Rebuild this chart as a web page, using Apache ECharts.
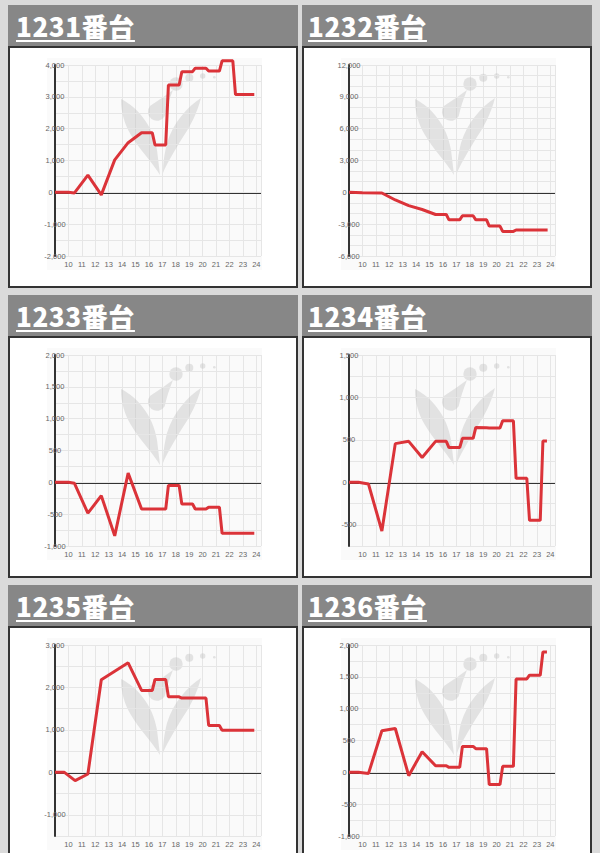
<!DOCTYPE html>
<html><head><meta charset="utf-8">
<script src="https://cdn.jsdelivr.net/npm/echarts@6/dist/echarts.min.js"></script>
<style>
html,body{margin:0;padding:0;background:#dadada;width:600px;height:853px;overflow:hidden;}
.hdr{position:absolute;width:290px;height:41px;background:#878787;color:#fff;font-family:"Noto Sans CJK JP","Noto Sans",sans-serif;font-weight:900;font-size:26px;line-height:41px;letter-spacing:0.6px;box-sizing:border-box;}
.hdr span{text-decoration:underline;text-decoration-thickness:2px;text-underline-offset:3px;}
.box{position:absolute;width:290px;height:242px;background:#fff;border:2px solid #333;box-sizing:border-box;}
.chart{width:286px;height:238px;}
</style></head><body>
<script>
// ---- data ----
const titles = ['1231番台','1232番台','1233番台','1234番台','1235番台','1236番台'];
const xTicks = [10,11,12,13,14,15,16,17,18,19,20,21,22,23,24];

const t1231 = [9,10,10.45,11.45,12.45,13.45,14.45,15.45,16.25,16.45,17.25,17.45,18.25,18.45,19.25,19.45,20.25,20.45,21.25,21.45,22.25,22.45,23.85];
const v1231 = [0,0,-20,540,-80,1020,1560,1870,1870,1490,1490,3370,3370,3790,3790,3900,3900,3810,3810,4130,4130,3070,3070];

const t1232 = [9,10,11.45,12.45,13.45,14.45,15.45,16.25,16.45,17.25,17.45,18.25,18.45,19.25,19.45,20.25,20.45,21.25,21.45,23.8];
const v1232 = [0,-30,-60,-720,-1250,-1620,-2090,-2090,-2590,-2590,-2210,-2210,-2590,-2590,-3180,-3180,-3680,-3680,-3550,-3550];

const t1233 = [9,10,10.45,11.45,12.45,13.45,14.45,15.45,17.25,17.45,18.25,18.45,19.25,19.45,20.25,20.45,21.25,21.45,23.85];
const v1233 = [0,0,-15,-485,-210,-840,145,-420,-420,-50,-50,-340,-340,-420,-420,-390,-390,-800,-800];

const t1234 = [9,9.7,10.45,11.45,12.45,13.45,14.45,15.45,16.25,16.45,17.25,17.45,18.25,18.45,19.25,19.45,20.25,20.45,21.25,21.45,22.25,22.45,23.25,23.45,23.75];
const v1234 = [0,0,-20,-573,456,483,292,483,483,409,409,518,518,647,643,639,639,725,725,47,47,-448,-448,487,487];

const t1235 = [9,9.7,10.5,11.45,12.45,14.45,15.45,16.25,16.45,17.25,17.45,18.25,18.45,20.25,20.45,21.25,21.45,23.85];
const v1235 = [0,0,-195,-40,2180,2580,1930,1930,2190,2190,1780,1780,1750,1750,1105,1105,990,990];

const t1236 = [9,9.7,10.45,11.45,12.45,13.45,14.45,15.45,16.25,16.45,17.25,17.45,18.25,18.45,19.25,19.45,20.25,20.45,21.25,21.45,22.25,22.45,23.25,23.45,23.75];
const v1236 = [0,0,-20,653,689,-52,324,104,104,78,78,407,407,371,371,-193,-193,94,94,1467,1467,1525,1525,1890,1890];

// y axis ranges: [min, max, grid step, label step]
const yMin = [-2000,-6000,-1000,-750,-1500,-1000];
const yMax = [4000,12000,2000,1500,3000,2000];
const yStep = [500,1000,250,250,500,250];
const yLabelStep = [1000,3000,500,500,1000,500];

const times = [t1231,t1232,t1233,t1234,t1235,t1236];
const values = [v1231,v1232,v1233,v1234,v1235,v1236];

// ---- layout ----
const G = {left:45, top:17, width:206, height:191};
const logoSvg = '<svg xmlns="http://www.w3.org/2000/svg" width="170" height="120" viewBox="0 0 170 120"><g fill="rgb(190,190,190)" fill-opacity="0.4">' +
  '<path d="M66,34 C82,42 98,60 102,85 L105,110 C98,98 84,84 76,70 C70,60 66,48 66,34 Z"/>' +
  '<path d="M146,33 C132,42 118,58 112,78 C109,90 108,100 108,108 C112,98 120,85 128,72 C136,60 142,48 146,33 Z"/>' +
  '<path d="M118,25 Q112,40 109.7,51.3 A9,9 0 1,1 95.3,40.7 Q106,34 118,25 Z"/>' +
  '<circle cx="121" cy="19" r="6.7"/><circle cx="134.3" cy="12.7" r="4"/><circle cx="147.7" cy="11" r="2.7"/><circle cx="159.3" cy="12.3" r="1.3"/>' +
  '</g></svg>';
const logoUrl = 'data:image/svg+xml;charset=utf-8,' + encodeURIComponent(logoSvg);
function logo(){
  return [
    {type:'rect', z:-1, silent:true, shape:{x:37,y:10,width:215,height:212}, style:{fill:'#fafafa'}},
    {type:'image', z:1, silent:true, x:G.left, y:G.top, style:{image:logoUrl, x:0, y:0, width:170, height:120}}
  ];
}

titles.forEach((title,i)=>{
  const col = i%2, row = Math.floor(i/2);
  const left = col ? 302 : 8;
  const top = 5 + row*290;
  const h = document.createElement('div');
  h.className='hdr';
  h.style.left=left+'px'; h.style.top=top+'px';
  h.style.paddingLeft = (col?6:8)+'px';
  const s = document.createElement('span'); s.textContent = title; h.appendChild(s);
  document.body.appendChild(h);
  const b = document.createElement('div');
  b.className='box';
  b.style.left=left+'px'; b.style.top=(top+41)+'px';
  const c = document.createElement('div'); c.className='chart';
  b.appendChild(c); document.body.appendChild(b);

  const chart = echarts.init(c, null, {renderer:'svg'});
  const data = times[i].map((t,k)=>[t, values[i][k]]);
  const ls = yLabelStep[i];
  chart.setOption({
    animation:false,
    grid:{left:G.left, top:G.top, width:G.width, height:G.height},
    graphic: logo(),
    xAxis:{
      type:'value', min:9, max:24.35, interval:1,
      axisLine:{show:false}, axisTick:{show:false},
      splitLine:{show:true, lineStyle:{color:'#e6e6e6', width:1}},
      axisLabel:{color:'#666', fontSize:7.5, margin:4, fontFamily:'Liberation Sans, Arial, sans-serif',
        formatter:v=> xTicks.includes(v) ? String(v) : ''}
    },
    yAxis:{
      type:'value', min:yMin[i], max:yMax[i], interval:yStep[i], z:5,
      axisLine:{show:true, lineStyle:{color:'#333', width:2}},
      axisTick:{show:false},
      splitLine:{show:true, lineStyle:{color:'#e6e6e6', width:1}},
      axisLabel:{color:'#666', fontSize:7.5, margin:0, align:'center', fontFamily:'Liberation Sans, Arial, sans-serif',
        rich:{z:{color:'#666', fontSize:7.5, fontFamily:'Liberation Sans, Arial, sans-serif', padding:[0,9,0,0]}},
        formatter:v=> {
          if (Math.round(v) % ls !== 0) return '';
          if (v === 0) return '{z|0}';
          return v.toLocaleString('en-US');
        }}
    },
    series:[{
      type:'line', data:data, z:10, symbol:'none', smooth:false, clip:false,
      lineStyle:{color:'#db3339', width:3},
      markLine:{silent:true, symbol:'none', z:3, label:{show:false},
        lineStyle:{color:'#333', width:2, type:'solid'},
        data:[{yAxis:0}]}
    }]
  });
});
</script>
</body></html>
